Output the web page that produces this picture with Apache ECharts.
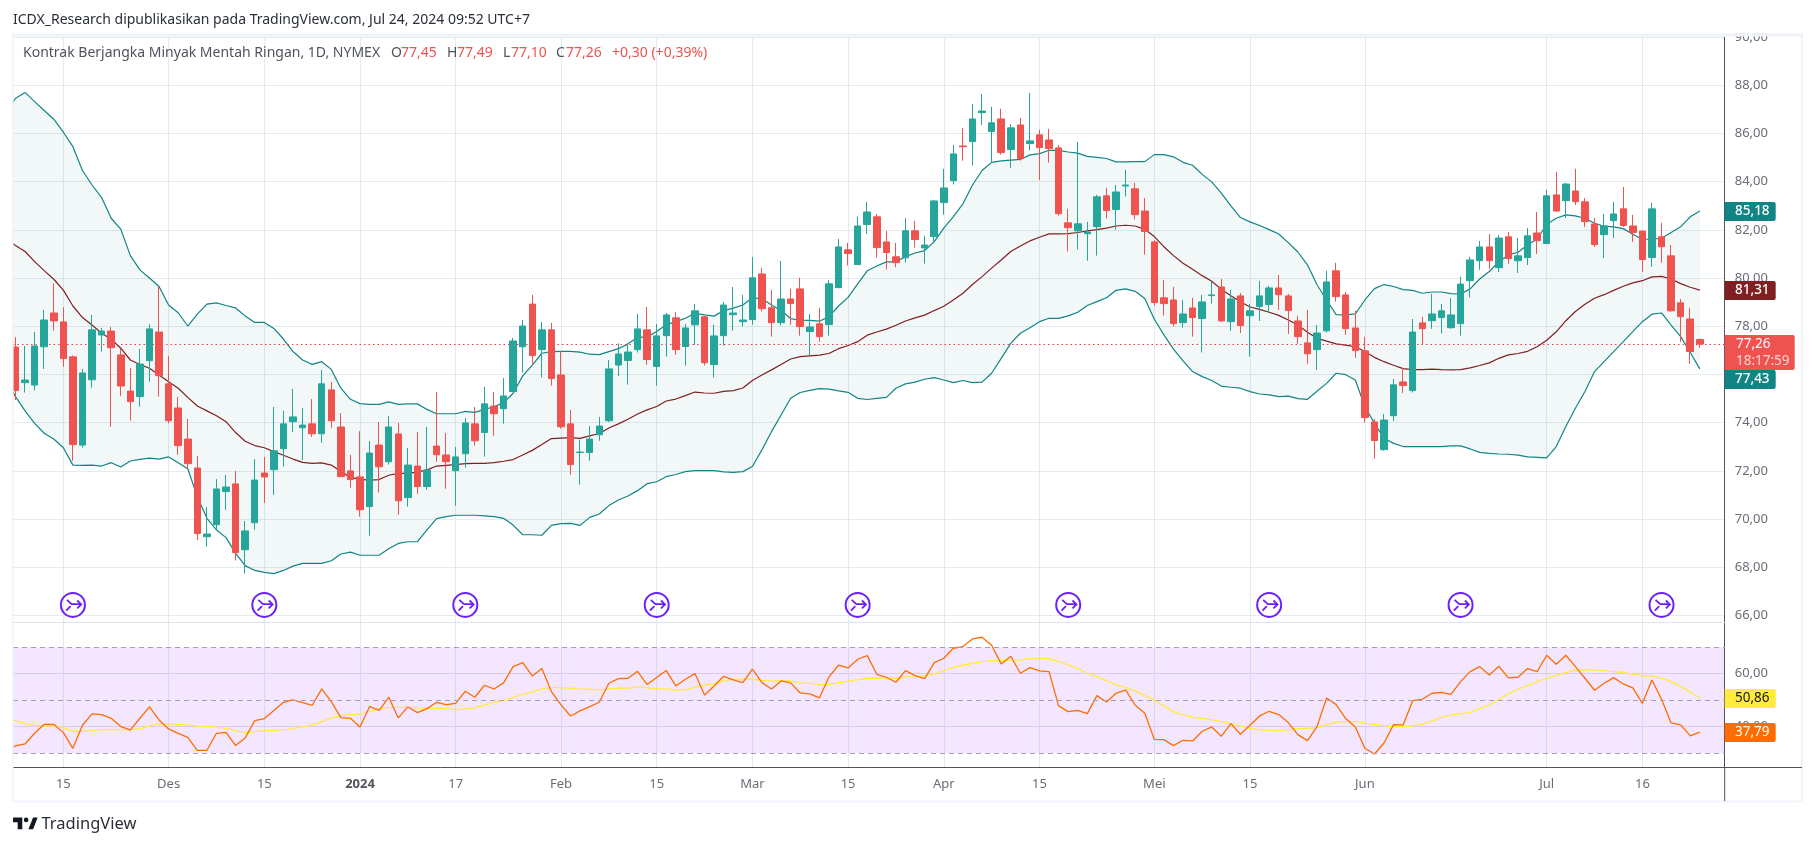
<!DOCTYPE html>
<html><head><meta charset="utf-8">
<style>html,body{margin:0;padding:0;background:#fff}#c{width:1814px;height:846px}</style>
<script src="https://cdn.jsdelivr.net/npm/echarts@6/dist/echarts.min.js"></script>
</head><body><div id="c"></div>
<script>
const opens=[77.14,75.66,75.56,77.15,78.55,78.18,76.73,73.07,75.78,77.64,
77.80,76.81,75.31,75.08,76.57,77.76,75.61,74.61,73.32,72.12,
69.27,69.77,71.14,71.46,68.73,69.85,71.91,72.05,72.92,74.04,
73.79,73.95,73.54,75.36,73.82,72.00,71.75,70.52,73.07,72.38,
73.53,70.89,72.20,71.35,73.03,72.66,72.01,72.71,73.95,73.59,
74.69,74.58,75.29,77.15,78.92,77.03,77.85,75.98,73.95,72.76,
72.76,73.50,74.08,76.39,76.58,77.03,77.85,76.33,77.61,78.35,
77.16,78.06,78.39,76.41,77.61,78.48,78.19,78.28,80.17,78.77,
78.15,79.13,79.55,77.78,78.10,78.07,79.60,81.17,80.56,82.22,
82.54,81.50,80.88,80.84,81.96,81.25,81.72,83.13,84.04,85.48,
85.66,86.86,86.08,86.60,85.33,86.35,85.58,85.94,85.73,85.40,
82.29,81.96,81.84,82.13,83.41,82.84,83.82,83.70,82.78,81.50,
79.18,79.09,78.15,78.76,78.32,79.27,79.63,78.19,79.26,78.44,
78.82,78.90,79.59,79.26,78.22,77.31,77.03,77.81,80.30,79.30,
77.93,76.98,74.03,72.88,74.29,75.69,75.33,78.14,78.23,78.36,
77.94,78.11,79.89,80.72,81.29,80.43,81.71,80.72,80.85,81.87,
81.43,83.45,83.21,83.61,83.16,82.24,81.80,82.38,82.87,82.16,
81.95,80.85,81.71,80.92,78.97,78.30,77.45];
const closes=[75.33,75.77,77.18,78.26,78.22,76.66,73.09,76.06,77.85,77.80,
77.11,75.52,74.87,76.43,77.89,75.95,74.08,73.05,72.30,69.40,
69.38,71.25,71.33,68.61,69.51,71.62,71.75,72.83,73.95,74.24,
73.90,73.54,75.61,74.08,71.76,71.64,70.39,72.74,72.17,73.82,
70.76,72.24,71.35,72.04,72.67,72.38,72.58,73.99,73.25,74.78,
74.37,75.11,77.39,78.01,76.78,77.85,75.83,73.83,72.26,72.78,
73.32,73.86,76.23,76.85,76.93,77.89,76.62,77.60,78.47,77.03,
77.93,78.64,76.49,77.60,78.88,78.55,78.26,80.01,78.73,78.15,
79.13,78.94,77.99,77.97,77.57,79.76,81.29,81.02,82.16,82.74,
81.26,81.06,80.64,81.96,81.60,81.37,83.20,83.74,85.15,85.45,
86.60,86.93,86.44,85.21,86.23,84.96,85.69,85.41,85.37,82.67,
82.09,82.25,81.91,83.37,82.80,83.57,83.86,82.63,81.93,78.98,
78.94,78.11,78.51,78.36,79.01,79.30,78.22,79.13,78.03,78.64,
79.26,79.59,79.31,78.65,77.57,76.86,77.72,79.84,79.23,77.90,
76.99,74.21,73.26,74.11,75.57,75.54,77.76,77.90,78.51,78.64,
78.47,79.75,80.75,81.29,80.72,81.66,80.81,80.92,81.75,81.55,
83.41,82.78,83.90,83.17,82.34,81.39,82.16,82.66,82.18,81.89,
80.77,82.87,81.30,78.64,78.40,76.95,77.26];
const lows=[74.94,75.25,75.33,76.23,77.82,76.32,72.42,72.96,75.45,76.95,
73.83,75.11,74.08,74.66,75.70,75.08,73.97,72.67,72.11,69.13,
68.86,69.55,70.38,68.28,67.74,69.56,70.67,71.00,72.17,73.61,
72.45,73.41,73.17,73.79,71.76,71.30,70.10,69.31,71.10,72.26,
70.18,70.52,71.05,71.22,72.38,71.26,70.56,72.13,73.05,72.59,
73.46,73.96,75.27,76.08,76.45,75.87,75.54,73.75,71.84,71.43,
72.42,73.25,74.03,75.94,75.58,76.91,76.40,75.54,76.74,76.81,
76.37,77.23,76.37,75.87,77.20,77.82,77.99,78.06,78.61,77.57,
78.03,78.06,77.61,76.81,77.36,77.61,79.59,80.52,80.54,81.84,
80.85,80.35,80.45,80.64,81.26,80.60,81.51,82.63,83.88,84.87,
84.67,86.35,84.79,85.12,84.57,84.87,85.29,84.07,84.79,82.59,
81.10,81.18,80.72,80.93,82.47,82.01,83.38,82.43,80.97,78.86,
78.44,77.99,77.94,77.57,76.91,78.94,78.18,77.81,77.72,76.74,
78.22,78.57,78.68,77.68,77.27,76.44,76.19,77.74,79.02,77.65,
76.69,74.00,72.51,72.84,74.07,75.23,75.25,77.24,77.89,77.70,
77.90,77.61,79.19,80.34,80.38,80.25,80.59,80.21,80.54,81.00,
81.42,82.74,82.49,83.03,82.12,81.29,80.83,81.66,82.12,81.50,
80.25,80.46,80.63,78.60,77.35,76.44,77.10];
const highs=[77.55,77.18,77.76,78.68,79.78,78.79,76.79,76.23,78.47,77.93,
77.97,77.06,76.27,77.06,78.09,79.64,76.77,75.07,74.15,72.62,
70.50,71.66,71.83,72.00,69.92,72.49,72.58,74.65,74.49,75.40,
74.61,74.98,76.19,75.69,74.40,72.66,73.65,73.24,74.03,74.28,
73.99,72.95,73.61,73.82,75.27,73.57,72.99,74.19,74.65,75.48,
75.27,75.85,77.51,78.26,79.30,78.18,78.14,76.97,74.53,73.30,
73.86,74.24,76.60,77.29,77.27,78.51,78.80,78.10,78.55,78.59,
78.10,78.93,78.43,78.06,79.01,79.63,79.30,80.88,80.42,79.51,
80.71,79.55,80.01,78.51,78.76,79.92,81.62,81.46,82.54,83.16,
82.66,81.96,81.46,82.49,82.37,81.75,83.24,84.53,85.52,86.23,
87.22,87.64,87.10,87.02,86.39,86.64,87.68,86.15,86.19,85.52,
82.87,85.65,82.33,83.45,83.74,83.86,84.49,83.95,83.32,81.58,
79.92,79.63,79.09,79.18,79.30,79.85,79.96,79.51,79.38,78.93,
79.88,79.67,80.13,79.34,78.43,78.68,78.05,80.30,80.63,79.42,
78.64,77.56,74.15,74.36,75.81,76.27,78.30,78.39,79.34,78.93,
79.17,80.05,80.88,81.54,81.83,81.79,81.91,81.66,82.08,82.74,
83.66,84.40,83.95,84.53,83.32,82.49,82.66,83.16,83.78,82.62,
81.95,83.12,82.29,81.37,79.13,78.76,77.49];

// Band and RSI lists hold one extra leading bar just off the left edge of the chart
const bbUpper=[86.84,87.46,87.70,87.32,86.95,86.59,86.05,85.45,84.46,83.86,83.34,
82.48,82.03,80.93,80.34,80.00,79.65,78.88,78.56,78.01,78.50,
78.92,78.97,78.86,78.76,78.43,78.16,78.16,77.91,77.47,76.95,
76.60,76.42,76.53,76.21,75.43,74.97,74.79,74.76,74.76,74.86,
74.76,74.78,74.78,74.55,74.37,74.37,74.37,74.47,74.43,74.55,
74.66,74.83,75.22,75.94,76.39,76.88,76.95,76.96,76.96,76.93,
76.84,76.82,76.95,77.07,77.27,77.54,77.56,77.78,78.06,78.19,
78.33,78.54,78.47,78.42,78.65,78.75,78.88,79.18,79.15,78.88,
78.65,78.32,78.25,78.24,78.21,78.40,78.84,79.20,79.76,80.30,
80.50,80.67,80.67,80.89,81.04,81.14,81.51,82.07,82.55,83.08,
83.86,84.46,84.80,84.86,84.89,84.92,85.11,85.16,85.30,85.30,
85.23,85.18,85.05,85.01,84.96,84.82,84.82,84.83,84.83,85.12,
85.12,85.03,84.80,84.68,84.30,83.99,83.52,82.99,82.51,82.33,
82.18,82.01,81.83,81.47,81.08,80.55,79.72,79.09,78.48,78.47,
78.51,79.09,79.56,79.73,79.65,79.52,79.49,79.37,79.42,79.42,
79.35,79.34,79.55,79.96,80.27,80.68,80.96,81.07,81.37,81.62,
82.23,82.48,82.62,82.58,82.48,82.27,82.15,82.12,82.05,81.82,
81.61,81.61,81.65,81.89,82.13,82.54,82.78];
const bbMiddle=[81.64,81.35,81.10,80.68,80.31,79.95,79.50,78.84,78.36,78.05,77.71,
77.46,77.09,76.60,76.41,76.26,75.98,75.70,75.43,75.05,74.69,
74.49,74.29,74.04,73.59,73.23,73.05,72.96,72.80,72.65,72.49,
72.35,72.31,72.33,72.24,71.97,71.73,71.65,71.62,71.64,71.82,
71.90,71.90,71.95,72.04,72.20,72.23,72.26,72.30,72.31,72.31,
72.34,72.40,72.47,72.66,72.85,73.09,73.34,73.36,73.38,73.35,
73.45,73.55,73.78,73.95,74.14,74.36,74.53,74.67,74.90,74.98,
75.12,75.27,75.23,75.22,75.30,75.33,75.44,75.75,75.98,76.19,
76.41,76.64,76.74,76.77,76.80,76.87,77.07,77.20,77.36,77.63,
77.76,77.88,78.04,78.22,78.35,78.46,78.65,78.83,79.09,79.37,
79.73,80.06,80.41,80.75,81.10,81.33,81.54,81.69,81.83,81.83,
81.84,81.89,81.96,82.01,82.07,82.16,82.19,82.16,82.02,81.72,
81.30,80.93,80.61,80.36,80.10,79.87,79.53,79.27,79.02,78.80,
78.70,78.58,78.45,78.26,78.05,77.75,77.50,77.38,77.27,77.22,
77.15,76.95,76.71,76.53,76.38,76.24,76.20,76.20,76.22,76.20,
76.19,76.20,76.27,76.37,76.48,76.67,76.81,76.87,76.96,77.15,
77.42,77.77,78.23,78.61,78.91,79.16,79.31,79.49,79.66,79.80,
79.89,80.05,80.07,79.96,79.77,79.62,79.50];
const bbLower=[75.77,75.08,74.49,73.97,73.56,73.32,72.96,72.24,72.23,72.24,72.20,
72.34,72.16,72.41,72.48,72.53,72.49,72.58,72.34,72.09,70.93,
70.03,69.55,69.23,68.58,68.07,67.87,67.79,67.74,67.87,68.05,
68.16,68.16,68.16,68.27,68.55,68.63,68.50,68.50,68.50,68.77,
68.99,69.06,69.06,69.55,70.02,70.10,70.16,70.16,70.16,70.13,
70.10,70.03,69.75,69.35,69.35,69.33,69.74,69.81,69.82,69.74,
70.07,70.21,70.56,70.79,70.96,71.18,71.47,71.55,71.76,71.85,
71.97,72.01,72.01,72.01,71.96,71.94,71.97,72.18,72.87,73.63,
74.32,75.01,75.25,75.34,75.41,75.39,75.32,75.26,75.01,74.96,
75.01,75.05,75.43,75.61,75.68,75.80,75.87,75.77,75.66,75.75,
75.66,75.68,76.05,76.67,77.29,77.71,77.94,78.19,78.33,78.33,
78.43,78.58,78.86,79.02,79.18,79.49,79.55,79.45,79.15,78.29,
77.64,77.05,76.56,76.12,75.91,75.75,75.52,75.47,75.43,75.29,
75.19,75.15,75.08,75.10,75.00,74.97,75.30,75.63,76.05,75.99,
75.77,74.67,73.97,73.35,73.14,73.01,73.01,73.01,73.01,73.01,
73.04,73.04,72.91,72.77,72.73,72.70,72.69,72.65,72.58,72.56,
72.54,73.01,73.84,74.60,75.29,76.12,76.53,76.95,77.36,77.78,
78.19,78.50,78.55,78.05,77.57,76.91,76.23];
const rsiValues=[31.20,32.75,33.51,37.53,40.93,40.93,37.78,31.87,40.55,44.83,44.58,
43.19,40.05,38.79,43.19,47.47,42.56,39.17,37.53,36.02,31.12,
31.12,37.53,37.91,32.88,35.77,42.31,43.07,46.09,49.23,50.11,
49.11,48.10,54.26,49.48,43.44,43.19,39.92,47.60,46.21,51.12,
43.32,47.47,45.33,46.84,49.23,48.35,48.85,53.38,51.12,55.65,
54.26,56.53,62.69,64.20,59.17,61.94,53.26,48.23,44.07,45.96,
47.60,49.23,56.40,58.16,58.29,60.93,55.90,58.54,61.18,55.40,
57.91,60.05,52.00,55.40,59.04,57.66,56.65,61.69,56.65,54.26,
57.28,56.53,52.75,52.38,50.87,58.79,63.20,62.19,65.46,66.84,
59.80,58.67,56.78,61.18,59.30,58.16,64.20,65.84,69.61,70.24,
73.13,73.76,70.74,63.70,66.59,60.18,62.31,61.06,60.81,47.85,
45.71,46.21,44.95,51.75,49.36,52.63,53.89,48.10,45.08,35.27,
35.14,32.88,34.89,34.64,38.29,39.92,36.40,41.18,37.15,40.55,
44.07,45.83,44.58,41.56,37.03,34.76,40.05,50.87,48.35,43.07,
39.92,31.87,29.73,33.88,40.80,40.68,49.86,50.36,52.63,53.00,
52.25,57.03,60.81,62.69,59.55,62.82,58.41,58.67,61.94,60.81,
66.97,63.57,66.97,62.69,58.29,53.76,56.40,58.54,56.15,54.64,
48.85,57.66,50.36,41.43,40.68,36.53,37.95];
const rsiMA=[44.07,42.19,41.18,40.55,40.30,40.30,39.54,38.29,38.29,38.54,38.92,
38.92,38.92,38.79,39.29,40.30,41.05,41.05,40.93,40.68,40.17,
40.05,39.92,39.42,38.54,37.91,38.16,38.54,38.66,38.79,39.29,
39.92,40.55,41.95,43.32,44.20,44.70,44.70,45.71,46.72,47.22,
47.34,47.34,47.09,46.97,46.97,46.84,46.46,46.72,47.09,48.23,
49.23,49.99,51.12,52.12,53.13,54.26,54.77,54.77,54.52,54.26,
54.14,53.89,54.26,54.52,54.52,55.02,54.64,54.26,54.26,53.76,
54.01,54.89,55.65,56.28,57.28,57.91,57.91,57.91,57.53,57.28,
57.41,57.28,56.53,56.40,55.90,55.90,56.65,57.16,57.66,58.29,
58.29,58.41,58.29,58.79,58.92,59.17,59.92,61.06,62.44,63.20,
63.95,64.58,64.83,64.83,65.21,65.21,65.71,65.71,65.71,64.58,
63.32,62.06,60.18,58.92,57.41,55.90,54.77,53.63,51.75,50.11,
47.85,45.71,44.45,43.57,43.19,42.56,41.95,41.18,40.30,39.42,
38.79,38.66,38.54,38.92,39.29,39.42,39.67,40.80,41.68,41.95,
42.06,41.31,40.93,40.43,40.05,40.05,40.30,40.93,42.19,43.57,
44.45,44.83,45.46,46.84,48.23,50.36,52.38,54.14,55.52,57.03,
58.29,59.42,60.55,61.31,61.56,61.43,61.18,60.81,60.55,59.80,
59.17,59.17,58.29,57.03,55.14,53.13,50.87];

const priceTicks=[66,68,70,72,74,76,78,80,82,84,86,88,90];
const rsiTicks=[40,60];
const rsiBands=[30,50,70];
const timeTickBars=[5,16,26,36,46,57,67,77,87,97,107,119,129,141,160,170];
const timeTickLabels=['15','Des','15','2024','17','Feb','15','Mar','15','Apr','15','Mei','15','Jun','Jul','16'];
const rolloverBars=[6,26,47,67,88,110,131,151,172];
const rolloverLevel=66.44;
const lastClose=77.26;

const FONT='"Noto Sans",sans-serif';
const UP='#26a69a',DOWN='#ef5350',GRID='#e3ebf1',TXT='#6a6d78',TEAL='#138484',MAROON='#801f22',PURPLE='#6a1fff';

const withBar=a=>a.map((v,k)=>[k-1,v]);
const candles=opens.map((o,i)=>[i,o,closes[i],lows[i],highs[i]]);
const tickName={};timeTickBars.forEach((b,k)=>tickName[b]=timeTickLabels[k]);
const comma=v=>v.toFixed(2).replace('.',',');

function txt(x,y,t,color,size,extra){return {type:'text',z:200,silent:true,x:x,y:y,
  style:Object.assign({text:t,fill:color,font:(size||13)+'px '+FONT,textAlign:'left',textVerticalAlign:'middle'},extra||{})};}
function rect(x,y,w,h,color,r){return {type:'rect',z:150,silent:true,shape:{x:x,y:y,width:w,height:h,r:r||0},style:{fill:color}};}
const LX=11.5,LY=813,LS=0.77;
const logoPt=p=>[LX+LS*p[0],LY+LS*p[1]];

const graphics=[
  rect(1726,26,76,7.5,'#ffffff'),
  rect(12,33.5,1791,3,'#f0f3fa'),
  rect(12,33.5,1.6,769,'#f0f3fa'),
  rect(1801,33.5,2,769,'#f0f3fa'),
  rect(12,800.5,1791,2,'#f0f3fa'),
  rect(13,622,1712,1,'#e0e3eb'),
  rect(1724,767,78,1,'#50535e'),
  rect(1724.2,767,1,34,'#50535e'),
  txt(13,20,'ICDX_Research dipublikasikan pada TradingView.com, Jul 24, 2024 09:52 UTC+7','#2a2e39',14),
  txt(23,53,'Kontrak Berjangka Minyak Mentah Ringan, 1D, NYMEX','#50535e',14),
  txt(391,53,'O','#50535e',14),txt(401,53,'77,45',DOWN,14),
  txt(447,53,'H','#50535e',14),txt(457,53,'77,49',DOWN,14),
  txt(503,53,'L','#50535e',14),txt(511,53,'77,10',DOWN,14),
  txt(556,53,'C','#50535e',14),txt(566,53,'77,26',DOWN,14),
  txt(612,53,'+0,30 (+0,39%)',DOWN,14),
  rect(1724.7,202,51,19,TEAL,[0,2,2,0]),txt(1735,211.5,'85,18','#ffffff',13.5,{font:'500 13.5px '+FONT}),
  rect(1724.7,281,51,19,MAROON,[0,2,2,0]),txt(1735,290.5,'81,31','#ffffff',13.5,{font:'500 13.5px '+FONT}),
  rect(1724.7,370,51,19,TEAL,[0,2,2,0]),txt(1735,379.5,'77,43','#ffffff',13.5,{font:'500 13.5px '+FONT}),
  rect(1724.7,335,70,35,DOWN,[0,2,2,0]),txt(1736,344,'77,26','#ffffff',13.5),txt(1736,361,'18:17:59','#fbd5d4',13.5),
  rect(1724.7,689,51,19,'#ffeb3b',[0,2,2,0]),txt(1735,698.5,'50,86','#131722',13.5),
  rect(1724.7,723,51,19,'#ff6d00',[0,2,2,0]),txt(1735,732.5,'37,79','#ffffff',13.5),
  {type:'polygon',z:200,silent:true,shape:{points:[[14,6],[2,6],[2,12],[8,12],[8,21],[14,21]].map(logoPt)},style:{fill:'#131722'}},
  {type:'polygon',z:200,silent:true,shape:{points:[[28,21],[22,21],[28,6],[34,6]].map(logoPt)},style:{fill:'#131722'}},
  {type:'circle',z:200,silent:true,shape:{cx:LX+LS*19,cy:LY+LS*9,r:LS*3},style:{fill:'#131722'}},
  txt(41.5,824,'TradingView','#2a2e39',16.5)
];

function lineSeries(name,vals,color,xi,w){return {name:name,type:'line',data:withBar(vals),xAxisIndex:xi,yAxisIndex:xi,
  showSymbol:false,symbol:'none',silent:true,animation:false,z:3,lineStyle:{color:color,width:w||1.2}};}

const option={
  animation:false,backgroundColor:'#ffffff',
  grid:[{left:13,top:37,width:1711.7,height:585.3,containLabel:false},
        {left:13,top:622.3,width:1711.7,height:145,containLabel:false}],
  xAxis:[0,1].map(g=>({type:'value',gridIndex:g,min:-0.261,max:178.6,
    axisLine:g?{show:true,onZero:false,lineStyle:{color:'#50535e',width:1}}:{show:false},
    axisTick:{show:false,customValues:timeTickBars},
    splitLine:{show:true,lineStyle:{color:GRID,width:1}},
    axisLabel:g?{show:true,customValues:timeTickBars,margin:10,color:TXT,fontFamily:FONT,fontSize:13,hideOverlap:false,
      formatter:v=>tickName[v]==='2024'?'{y|2024}':tickName[v],rich:{y:{fontWeight:'bold',color:'#50535e',fontFamily:FONT,fontSize:13}}}:{show:false}})),
  yAxis:[
    {type:'value',gridIndex:0,position:'right',min:65.718,max:90,
     axisLine:{show:true,onZero:false,lineStyle:{color:'#50535e',width:1}},
     axisTick:{show:false,customValues:priceTicks},
     splitLine:{show:true,lineStyle:{color:GRID,width:1}},
     axisLabel:{show:true,customValues:priceTicks,margin:10,color:TXT,fontFamily:FONT,fontSize:13,formatter:comma,hideOverlap:false}},
    {type:'value',gridIndex:1,position:'right',min:24.7,max:79.4,
     axisLine:{show:true,onZero:false,lineStyle:{color:'#50535e',width:1}},
     axisTick:{show:false,customValues:rsiTicks},
     splitLine:{show:true,lineStyle:{color:'#e0e0ef',width:1}},
     axisLabel:{show:true,customValues:rsiTicks,margin:10,color:TXT,fontFamily:FONT,fontSize:13,formatter:comma,hideOverlap:false}}
  ],
  graphic:{elements:graphics},
  series:[
    {name:'BandFill',type:'custom',silent:true,z:1,clip:true,xAxisIndex:0,yAxisIndex:0,
     data:bbUpper.map((u,k)=>[k-1,bbLower[k],u]),encode:{x:0,y:[1,2]},
     renderItem:(p,api)=>{
       if(p.dataIndex!==0) return null;
       const up=[],lo=[];
       for(let k=0;k<bbUpper.length;k++){
         up.push(api.coord([api.value(0,k),api.value(2,k)]));
         lo.push(api.coord([api.value(0,k),api.value(1,k)]));
       }
       return {type:'polygon',shape:{points:up.concat(lo.reverse())},style:{fill:'rgba(19,132,132,0.055)'}};
     }},
    lineSeries('Upper',bbUpper,TEAL,0),
    lineSeries('Middle',bbMiddle,MAROON,0),
    lineSeries('Lower',bbLower,TEAL,0),
    {name:'Price',type:'candlestick',data:candles,barWidth:7,silent:true,z:5,xAxisIndex:0,yAxisIndex:0,
     itemStyle:{color:UP,color0:DOWN,borderColor:UP,borderColor0:DOWN,borderWidth:1},
     markLine:{silent:true,symbol:'none',label:{show:false},animation:false,
       lineStyle:{color:'#f23645',type:[1.5,3],width:1},data:[{yAxis:lastClose}]}},
    {name:'Rollover',type:'custom',silent:true,z:6,clip:false,xAxisIndex:0,yAxisIndex:0,
     data:rolloverBars.map(b=>[b,rolloverLevel]),encode:{x:0,y:1},
     renderItem:(p,api)=>{const c=api.coord([api.value(0),api.value(1)]);
       const st={stroke:PURPLE,lineWidth:1.8,fill:'none'};
       return {type:'group',x:c[0],y:c[1],children:[
         {type:'circle',shape:{cx:0,cy:0,r:12},style:{stroke:PURPLE,lineWidth:2,fill:'rgba(255,255,255,0)'}},
         {type:'polyline',shape:{points:[[-6,-5],[-1.3,-0.7],[8,-0.7]]},style:st},
         {type:'polyline',shape:{points:[[4.3,-4.4],[8.3,-0.5],[4.3,3.4]]},style:st},
         {type:'polyline',shape:{points:[[-6.7,5.7],[-2.3,1.2]]},style:st}
       ]};}},
    Object.assign(lineSeries('RSI',rsiValues,'#ff6d00',1,1.3),{z:4,
      markArea:{silent:true,animation:false,itemStyle:{color:'rgba(155,39,255,0.115)'},data:[[{yAxis:rsiBands[0]},{yAxis:rsiBands[2]}]]},
      markLine:{silent:true,symbol:'none',label:{show:false},animation:false,
        lineStyle:{color:'#a79fb0',type:[5,4],width:1},data:rsiBands.map(b=>({yAxis:b}))}}),
    lineSeries('RSI MA',rsiMA,'#ffeb3b',1,1.3)
  ]
};
const chart=echarts.init(document.getElementById('c'),null,{renderer:'canvas',width:1814,height:846});
chart.setOption(option);
</script></body></html>
